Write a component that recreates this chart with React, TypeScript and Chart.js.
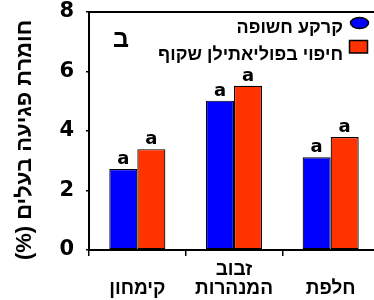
import React, { useEffect, useRef } from 'react';
import { Chart, registerables } from 'chart.js';

Chart.register(...registerables);

const categories = [['קימחון'], ['זבוב', 'המנהרות'], ['חלפת']];
const seriesNames = ['קרקע חשופה', 'חיפוי בפוליאתילן שקוף'];
const bareSoil = [2.72, 5.02, 3.12];
const mulch = [3.39, 5.52, 3.8];
const bareLetters = ['a', 'a', 'a'];
const mulchLetters = ['a', 'a', 'a'];
const yTicks = [0, 2, 4, 6, 8];
const yTitle = 'חומרת פגיעה בעלים (%)';
const panelLabel = 'ב';

const HEB = "'Liberation Sans', Arial, sans-serif";
const NUM = "'DejaVu Sans', sans-serif";
const BLUE = '#0000ff';
const RED = '#ff3300';

const overlayPlugin = {
  id: 'overlay',
  afterDraw(chart: any) {
    const ctx = chart.ctx;
    const area = chart.chartArea;
    ctx.save();
    // top frame line
    ctx.strokeStyle = '#000';
    ctx.lineWidth = 2;
    ctx.beginPath();
    ctx.moveTo(area.left - 1, area.top);
    ctx.lineTo(area.right, area.top);
    ctx.stroke();

    // value letters
    ctx.fillStyle = '#000';
    ctx.font = `bold 18px ${NUM}`;
    ctx.textAlign = 'center';
    ctx.textBaseline = 'alphabetic';
    const letterSets = [bareLetters, mulchLetters];
    chart.data.datasets.forEach((_ds: any, di: number) => {
      const meta = chart.getDatasetMeta(di);
      meta.data.forEach((bar: any, i: number) => {
        ctx.fillText(letterSets[di][i], bar.x, bar.y - 5);
      });
    });

    // panel label
    ctx.direction = 'rtl';
    ctx.font = `bold 25px ${HEB}`;
    ctx.textAlign = 'center';
    ctx.fillText(panelLabel, 121, 47);

    // legend
    ctx.font = `bold 18px ${HEB}`;
    ctx.textAlign = 'right';
    ctx.fillText(seriesNames[0], 343, 33);
    ctx.fillText(seriesNames[1], 343, 60);
    ctx.lineWidth = 1.5;
    ctx.fillStyle = BLUE;
    ctx.beginPath();
    ctx.ellipse(359.5, 23, 9, 5.5, 0, 0, Math.PI * 2);
    ctx.fill();
    ctx.stroke();
    ctx.fillStyle = RED;
    ctx.fillRect(349.5, 40.5, 18, 12.5);
    ctx.strokeRect(349.5, 40.5, 18, 12.5);

    // y title
    ctx.fillStyle = '#000';
    ctx.font = `bold 22px ${HEB}`;
    ctx.translate(25, 140);
    ctx.rotate(-Math.PI / 2);
    ctx.textAlign = 'center';
    ctx.textBaseline = 'middle';
    ctx.fillText(yTitle, 0, 0);
    ctx.restore();
  },
};

export default function App() {
  const ref = useRef<HTMLCanvasElement | null>(null);
  useEffect(() => {
    if (!ref.current) return;
    const chart = new Chart(ref.current, {
      type: 'bar',
      data: {
        labels: categories as any,
        datasets: [
          {
            label: seriesNames[0],
            data: bareSoil,
            backgroundColor: BLUE,
            borderColor: '#000',
            borderWidth: 1.2,
            borderSkipped: false,
            categoryPercentage: 0.58,
            barPercentage: 1,
          },
          {
            label: seriesNames[1],
            data: mulch,
            backgroundColor: RED,
            borderColor: '#000',
            borderWidth: 1.2,
            borderSkipped: false,
            categoryPercentage: 0.58,
            barPercentage: 1,
          },
        ],
      },
      options: {
        animation: false,
        responsive: false,
        maintainAspectRatio: false,
        layout: { padding: { top: 12, right: 11, left: 0, bottom: 0 } },
        plugins: { legend: { display: false }, tooltip: { enabled: false } },
        scales: {
          x: {
            grid: {
              display: true,
              drawOnChartArea: false,
              drawTicks: true,
              tickLength: 6,
              color: '#000',
              lineWidth: 1.5,
              offset: true,
            },
            border: { display: true, color: '#000', width: 2 },
            ticks: {
              color: '#000',
              font: { family: HEB, size: 19, weight: 'bold', lineHeight: 1 },
              padding: 14,
              crossAlign: 'far',
              maxRotation: 0,
              autoSkip: false,
            },
            afterFit: (s: any) => {
              s.height = 50;
              s.paddingLeft = 0;
              s.paddingRight = 0;
            },
          },
          y: {
            min: 0,
            max: 8,
            afterBuildTicks: (s: any) => {
              s.ticks = yTicks.map((v) => ({ value: v }));
            },
            grid: {
              display: true,
              drawOnChartArea: false,
              drawTicks: true,
              tickLength: 3,
              color: '#000',
              lineWidth: 1.5,
            },
            border: { display: true, color: '#000', width: 2 },
            ticks: {
              color: '#000',
              font: { family: NUM, size: 21, weight: 'bold', lineHeight: 1 },
              padding: 12,
            },
            afterFit: (s: any) => {
              s.width = 89;
              s.paddingTop = 0;
              s.paddingBottom = 0;
            },
          },
        },
      },
      plugins: [overlayPlugin],
    });
    return () => chart.destroy();
  }, []);
  return (
    <div
      style={{
        position: 'absolute',
        left: 0,
        top: 0,
        width: 374,
        height: 300,
        overflow: 'hidden',
        background: '#fff',
      }}
    >
      <canvas ref={ref} width={390} height={300} style={{ display: 'block' }} />
    </div>
  );
}
